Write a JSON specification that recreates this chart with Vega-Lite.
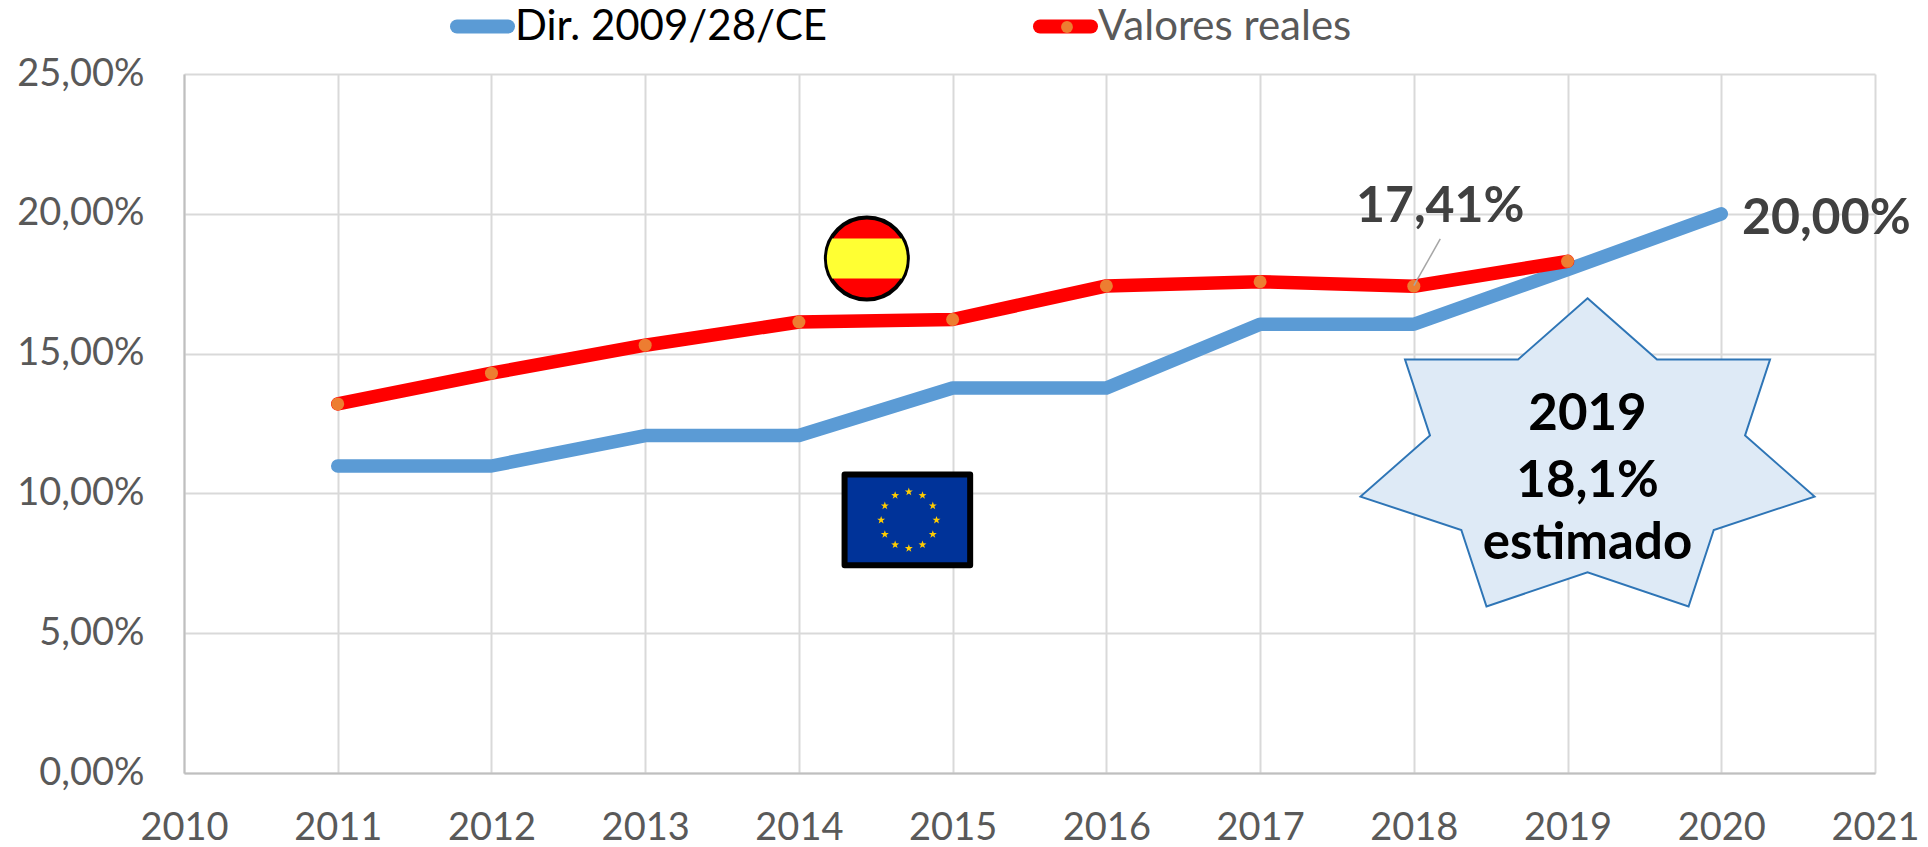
{
"$schema":"https://vega.github.io/schema/vega-lite/v6.json",
"width":1691,"height":699,
"autosize":{"type":"none"},
"padding":{"left":184,"top":74,"right":53,"bottom":74},
"background":"white",
"config":{"font":"Lato","view":{"stroke":null}},
"data":{"values":[
{"year":2011,"value":10.98,"series":"Dir. 2009/28/CE"},
{"year":2012,"value":10.98,"series":"Dir. 2009/28/CE"},
{"year":2013,"value":12.07,"series":"Dir. 2009/28/CE"},
{"year":2014,"value":12.07,"series":"Dir. 2009/28/CE"},
{"year":2015,"value":13.77,"series":"Dir. 2009/28/CE"},
{"year":2016,"value":13.77,"series":"Dir. 2009/28/CE"},
{"year":2017,"value":16.05,"series":"Dir. 2009/28/CE"},
{"year":2018,"value":16.05,"series":"Dir. 2009/28/CE"},
{"year":2019,"value":18,"series":"Dir. 2009/28/CE"},
{"year":2020,"value":20,"series":"Dir. 2009/28/CE"},
{"year":2011,"value":13.2,"series":"Valores reales"},
{"year":2012,"value":14.3,"series":"Valores reales"},
{"year":2013,"value":15.3,"series":"Valores reales"},
{"year":2014,"value":16.13,"series":"Valores reales"},
{"year":2015,"value":16.22,"series":"Valores reales"},
{"year":2016,"value":17.42,"series":"Valores reales"},
{"year":2017,"value":17.57,"series":"Valores reales"},
{"year":2018,"value":17.41,"series":"Valores reales"},
{"year":2019,"value":18.3,"series":"Valores reales"}
]},
"layer":[
{"mark":{"type":"line","strokeWidth":13.5,"strokeCap":"round","strokeJoin":"round"},
 "encoding":{
 "x":{"field":"year","type":"quantitative","scale":{"domain":[2010,2021],"nice":false,"zero":false},
  "axis":{"title":null,"values":[2010,2011,2012,2013,2014,2015,2016,2017,2018,2019,2020,2021],"format":"d","labelFontSize":38,"labelColor":"#595959","labelPadding":55,"labelBaseline":"middle","ticks":false,"grid":true,"gridColor":"#d9d9d9","gridWidth":2,"domainColor":"#bfbfbf","domainWidth":2,"labelFlush":false}},
 "y":{"field":"value","type":"quantitative","scale":{"domain":[0,25],"nice":false},
  "axis":{"title":null,"values":[0,5,10,15,20,25],"labelExpr":"replace(format(datum.value,'.2f'),'.',',')+'%'","labelFontSize":38,"labelColor":"#595959","labelPadding":40,"ticks":false,"grid":true,"gridColor":"#d9d9d9","gridWidth":2,"domainColor":"#bfbfbf","domainWidth":2}},
 "color":{"field":"series","type":"nominal","scale":{"domain":["Dir. 2009/28/CE","Valores reales"],"range":["#5b9bd5","#ff0000"]},
  "legend":{"title":null,"orient":"none","legendX":266,"legendY":-80,"direction":"horizontal","columns":2,"gridAlign":"none","columnPadding":185,"symbolType":"stroke","symbolSize":2601,"symbolStrokeWidth":14,"labelFontSize":42,"labelOffset":0,"labelLimit":500,"encode":{"labels":{"update":{"fill":{"signal":"datum.value==='Dir. 2009/28/CE'?'#000000':'#595959'"}}},"symbols":{"update":{"strokeCap":{"value":"round"}}}}}}
 }},
{"transform":[{"filter":"datum.series==='Valores reales'"}],
 "mark":{"type":"point","filled":true,"size":169,"opacity":1,"shape":"circle"},
 "encoding":{"x":{"field":"year","type":"quantitative"},"y":{"field":"value","type":"quantitative"},
 "fill":{"field":"series","type":"nominal","scale":{"domain":["Valores reales"],"range":["#ed7d31"]},
  "legend":{"title":null,"orient":"none","legendX":877,"legendY":-53,"symbolType":"circle","symbolSize":140,"symbolStrokeWidth":0,"labelFontSize":12,"labelExpr":"''"}}}},
{"data":{"values":[{"year":2018.172,"value":19.1,"year2":2018,"value2":17.43}]},
 "mark":{"type":"rule","color":"#a6a6a6","strokeWidth":1.5},
 "encoding":{"x":{"field":"year","type":"quantitative"},"x2":{"field":"year2"},"y":{"field":"value","type":"quantitative"},"y2":{"field":"value2"}}},
{"data":{"values":[{"year":2018.172,"value":20.23,"label":"17,41%"},{"year":2020.683,"value":19.81,"label":"20,00%"}]},
 "mark":{"type":"text","fontSize":50,"fontWeight":"bold","color":"#404040","baseline":"middle","align":"center"},
 "encoding":{"x":{"field":"year","type":"quantitative"},"y":{"field":"value","type":"quantitative"},"text":{"field":"label"}}},
{"data":{"values":[{"year":2019.13,"value":11.46}]},
 "mark":{"type":"point","filled":true,"fill":"#deeaf6","stroke":"#2e75b6","strokeWidth":2,"opacity":1,"size":206116,
  "shape":"M0 -0.68 L0.306 -0.41 L0.804 -0.41 L0.694 -0.075 L1 0.194 L0.556 0.341 L0.445 0.678 L0 0.527 L-0.445 0.678 L-0.556 0.341 L-1 0.194 L-0.694 -0.075 L-0.804 -0.41 L-0.306 -0.41 Z"},
 "encoding":{"x":{"field":"year","type":"quantitative"},"y":{"field":"value","type":"quantitative"}}},
{"data":{"values":[{"year":2019.13,"value":12.82,"label":"2019"},{"year":2019.13,"value":10.41,"label":"18,1%"},{"year":2019.13,"value":8.2,"label":"estimado"}]},
 "mark":{"type":"text","fontSize":51,"fontWeight":"bold","color":"#000000","baseline":"middle","align":"center"},
 "encoding":{"x":{"field":"year","type":"quantitative"},"y":{"field":"value","type":"quantitative"},"text":{"field":"label"}}},
{"data":{"values":[{"year":2014.442,"value":18.4}]},
 "mark":{"type":"point","filled":true,"fill":"#ff0000","stroke":"#000000","strokeWidth":4,"opacity":1,"size":6724,"shape":"circle"},
 "encoding":{"x":{"field":"year","type":"quantitative"},"y":{"field":"value","type":"quantitative"}}},
{"data":{"values":[{"year":2014.442,"value":18.4}]},
 "mark":{"type":"point","filled":true,"fill":"#ffff33","opacity":1,"size":6400,"shape":"M-0.866 -0.5 L0.866 -0.5 A1 1 0 0 1 0.866 0.5 L-0.866 0.5 A1 1 0 0 1 -0.866 -0.5 Z"},
 "encoding":{"x":{"field":"year","type":"quantitative"},"y":{"field":"value","type":"quantitative"}}},
{"data":{"values":[{"year":2014.297,"year2":2015.114,"value":10.68,"value2":7.43}]},
 "mark":{"type":"rect","fill":"#003399","stroke":"#000000","strokeWidth":6,"strokeJoin":"round"},
 "encoding":{"x":{"field":"year","type":"quantitative"},"x2":{"field":"year2"},"y":{"field":"value","type":"quantitative"},"y2":{"field":"value2"}}},
{"data":{"values":[
{"year":2014.715,"value":10.058},{"year":2014.804,"value":9.927},{"year":2014.871,"value":9.558},{"year":2014.895,"value":9.046},{"year":2014.871,"value":8.534},{"year":2014.804,"value":8.165},{"year":2014.715,"value":8.034},{"year":2014.626,"value":8.165},{"year":2014.559,"value":8.534},{"year":2014.535,"value":9.046},{"year":2014.559,"value":9.558},{"year":2014.626,"value":9.927}]},
 "mark":{"type":"point","filled":true,"color":"#ffcc00","opacity":1,"size":70,"shape":"M0 -1 L0.235 -0.324 L0.951 -0.309 L0.38 0.124 L0.588 0.809 L0 0.4 L-0.588 0.809 L-0.38 0.124 L-0.951 -0.309 L-0.235 -0.324 Z"},
 "encoding":{"x":{"field":"year","type":"quantitative"},"y":{"field":"value","type":"quantitative"}}}
]
}
